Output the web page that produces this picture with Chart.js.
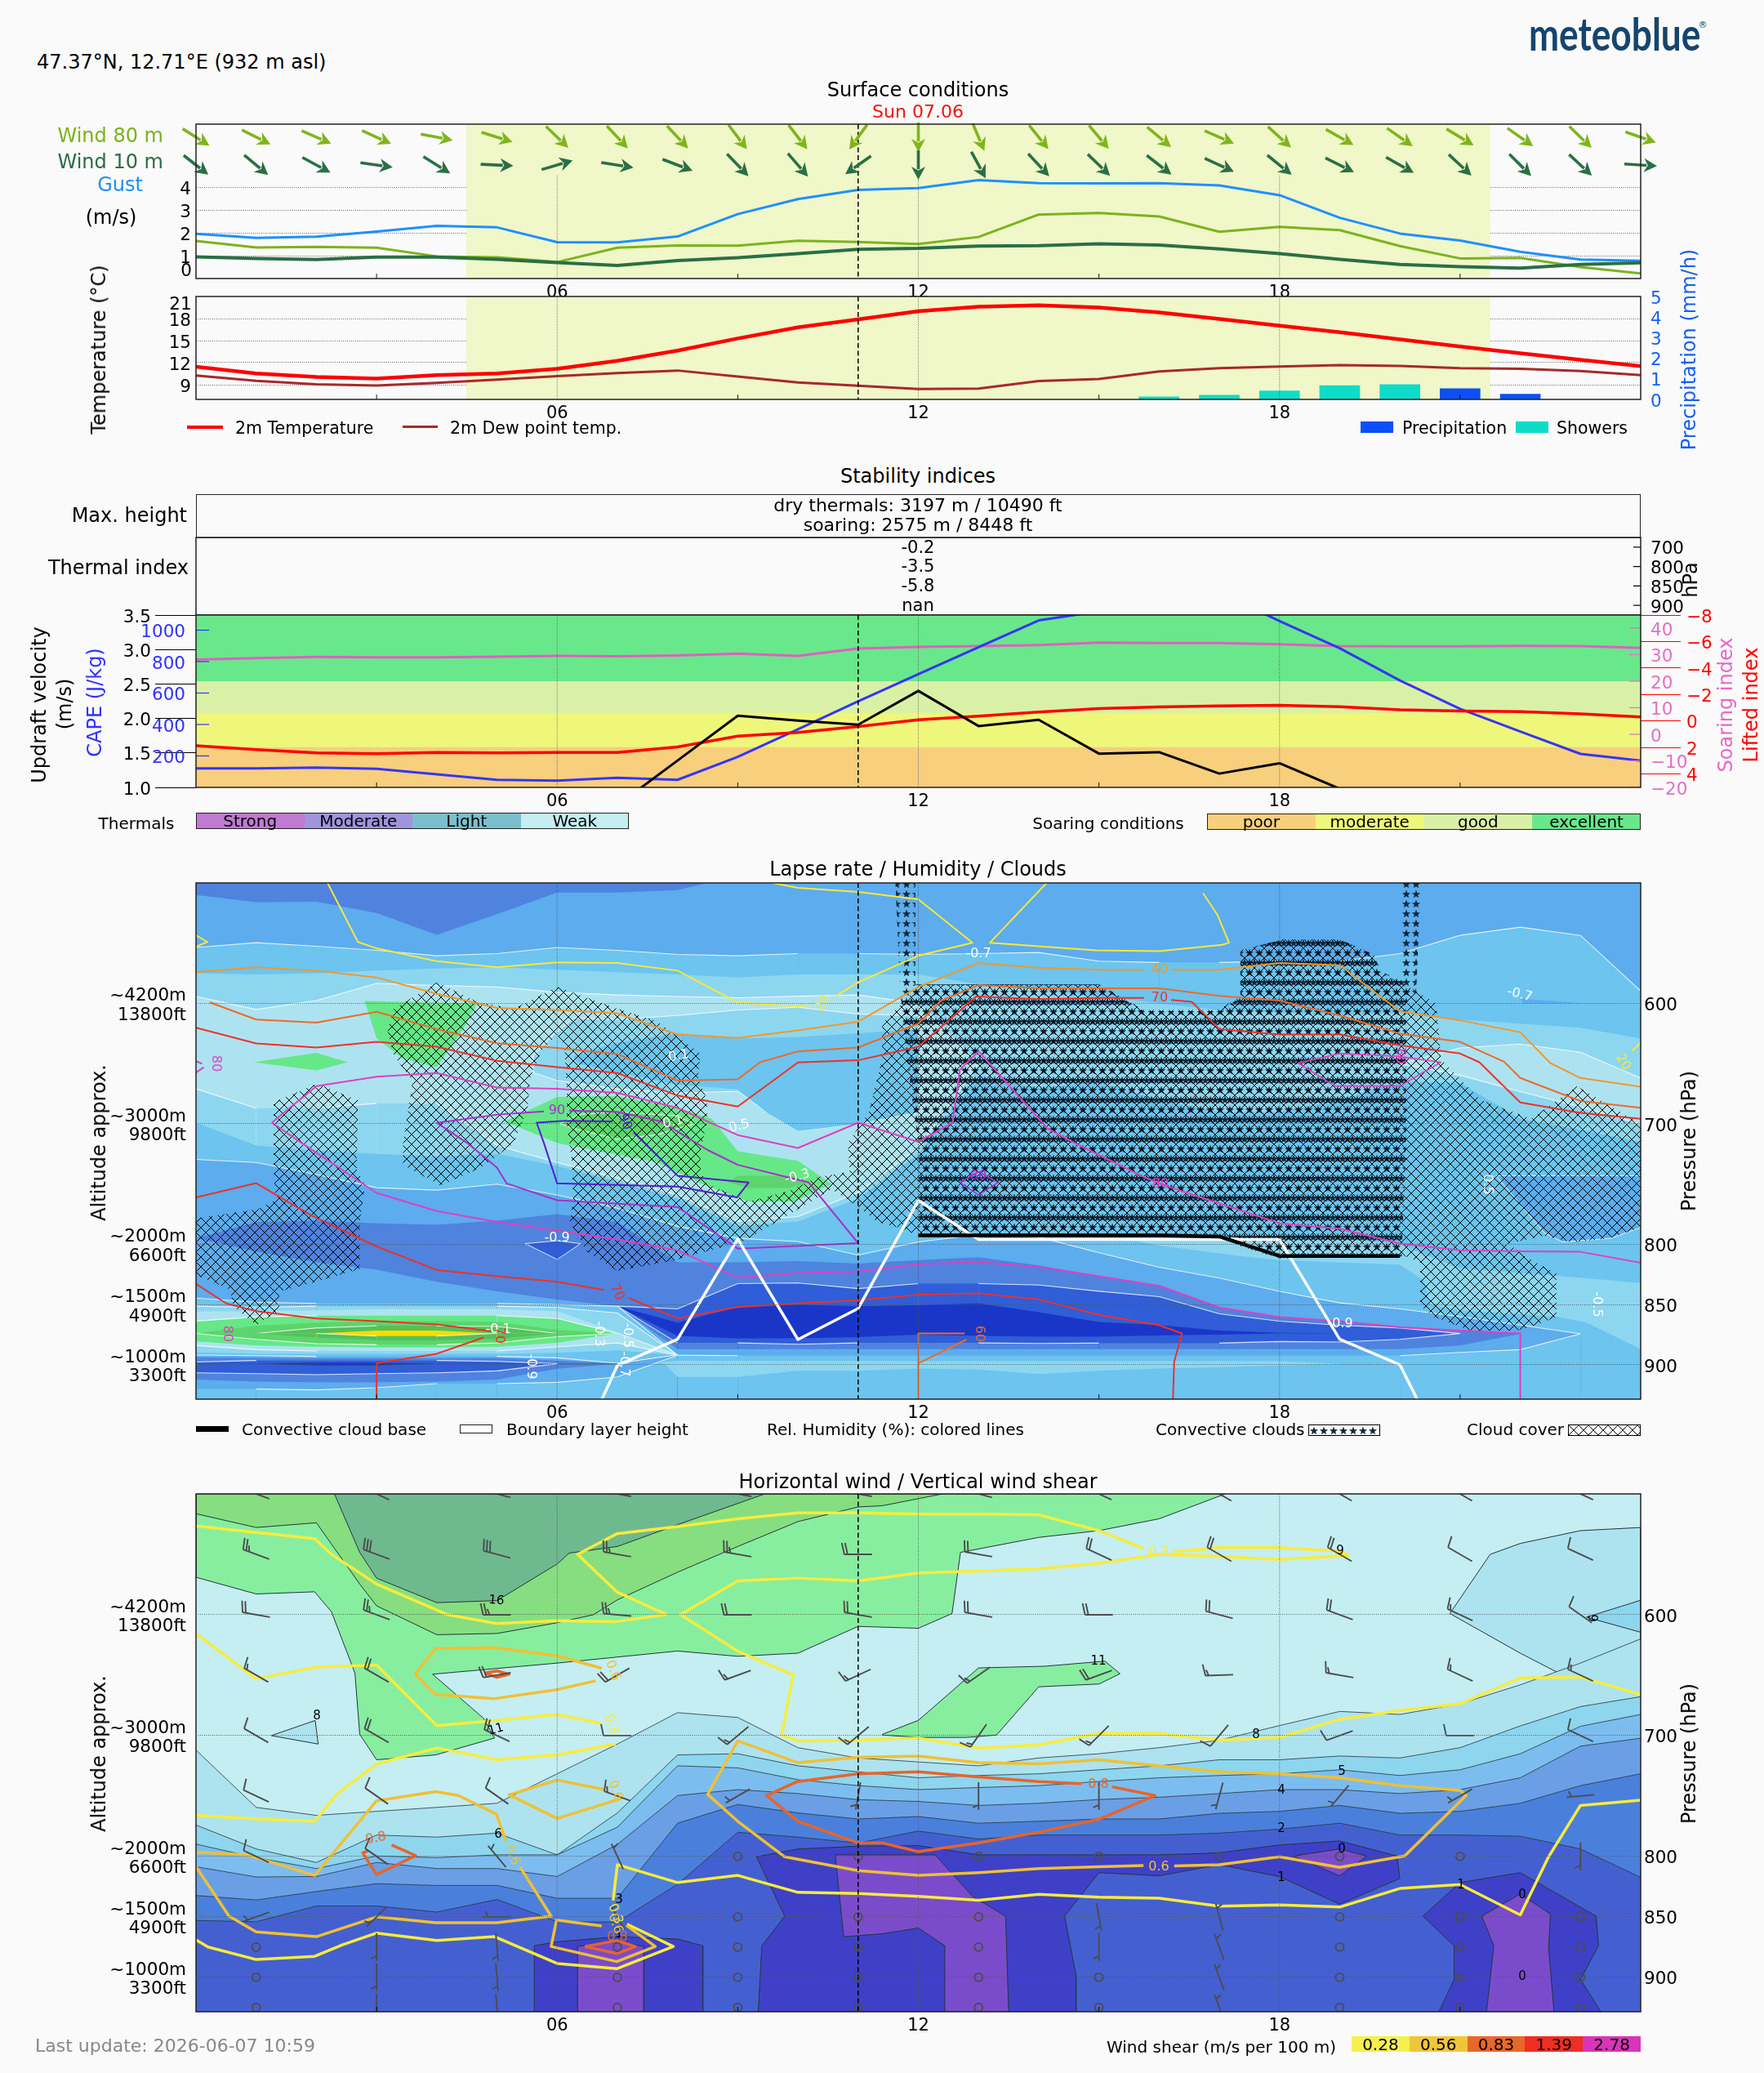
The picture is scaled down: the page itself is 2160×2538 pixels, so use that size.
<!DOCTYPE html>
<html>
<head>
<meta charset="utf-8">
<title>Meteogram</title>
<script src="https://cdn.jsdelivr.net/npm/chart.js@4/dist/chart.umd.js"></script>
<style>
  html, body { margin: 0; padding: 0; background: #fafafa; }
  #page { position: relative; width: 2160px; height: 2538px; overflow: hidden; font-family: "DejaVu Sans", sans-serif; color: #000; }
  #page canvas { position: absolute; left: 0; }
  .t { position: absolute; white-space: nowrap; z-index: 5; line-height: 1; }
  .box { position: absolute; z-index: 4; box-sizing: border-box; }
</style>
</head>
<body>
<div id="page"></div>
<script>
// ---------- time axis ----------
const hours = [0,1,2,3,4,5,6,7,8,9,10,11,12,13,14,15,16,17,18,19,20,21,22,23,24];
const hourLabels = [6,12,18];
const minorHours = [3,9,15,21];
const nowHour = 11;
const sunrise = 4.49, sunset = 21.5;

// ---------- surface conditions ----------
const gust   = [1.96,1.78,1.83,2.06,2.31,2.24,1.59,1.58,1.84,2.82,3.48,3.88,3.96,4.31,4.18,4.17,4.18,4.08,3.65,2.66,1.97,1.66,1.17,0.83,0.78];
const wind80 = [1.65,1.36,1.39,1.35,0.97,0.93,0.72,1.35,1.45,1.44,1.65,1.6,1.51,1.82,2.8,2.87,2.72,2.05,2.26,2.12,1.42,0.88,0.9,0.5,0.22];
const wind10 = [0.95,0.88,0.83,0.94,0.94,0.84,0.7,0.57,0.79,0.91,1.09,1.28,1.32,1.42,1.44,1.52,1.47,1.3,1.09,0.84,0.62,0.52,0.46,0.62,0.69];
const dir80  = [305,299,296,297,282,289,317,320,320,326,325,33,0,339,324,323,313,296,315,302,308,304,308,317,291];
const dir10  = [311,313,301,279,305,273,252,280,293,319,322,52,0,334,320,317,311,297,312,299,302,316,318,316,274];
const speedTicks = [1,2,3,4];

// ---------- temperature and precipitation ----------
const temperature = [11.44,10.53,10.06,9.82,10.3,10.53,11.17,12.24,13.63,15.29,16.8,17.9,19.0,19.6,19.8,19.5,18.83,17.95,17.04,16.13,15.17,14.2,13.27,12.4,11.52];
const dewPoint    = [10.25,9.54,9.06,8.9,9.26,9.7,10.17,10.57,10.93,10.1,9.3,8.86,8.43,8.47,9.5,9.78,10.8,11.25,11.48,11.68,11.56,11.25,11.17,10.85,10.3];
const showerHours = [16,17,18,19,20];
const showers     = [0.13,0.21,0.41,0.67,0.72];
const precipHours = [21,22];
const precip      = [0.52,0.25];
const tempTicks = [9,12,15,18];
const precipTicks = [0,1,2,3,4,5];

// ---------- stability indices ----------
const thermalLevels = ['700','800','850','900'];
const thermalIndex  = ['-0.2','-3.5','-5.8','nan'];
const cape    = [121,121,126,118,83,48,43,61,48,194,369,547,720,892,1062,1119,1250,1240,1058,885,680,499,355,213,170];
const lifted  = [1.85,2.15,2.4,2.46,2.36,2.4,2.36,2.36,1.95,1.13,0.86,0.41,-0.1,-0.37,-0.68,-0.94,-1.07,-1.15,-1.19,-1.09,-0.86,-0.76,-0.72,-0.55,-0.31];
const soaring = [28.1,28.7,29.1,29,29,29.2,29.5,29.4,29.7,30.4,29.5,32.3,32.9,33.2,33.6,34.5,34.4,34.4,33.9,33.2,33.1,33.1,33.3,33.2,32.5];
const updraft = [null,null,null,null,null,null,null,0.74,1.39,2.04,1.97,1.91,2.4,1.89,1.98,1.49,1.51,1.2,1.35,0.98,null,null,null,null,null];
const updraftTicks = [1,1.5,2,2.5,3,3.5];
const capeTicks = [200,400,600,800,1000];
const soaringTicks = [-20,-10,0,10,20,30,40];
const liftedTicks = [-8,-6,-4,-2,0,2,4];
const soaringEdges = [3.5,2.54,2.08,1.585];

// ---------- pressure axes ----------
const pressureTicks = [600,700,800,850,900];
const altitudeLabels = {600:['~4200m','13800ft'],700:['~3000m','9800ft'],800:['~2000m','6600ft'],850:['~1500m','4900ft'],900:['~1000m','3300ft']};

// ---------- lapse rate contours: upper edge of each band, hPa per hour ----------
const lapseA = [553.6,549.6,552.5,555.9,560.4,558.6,553.6,555.9,559.3,560.4,558.6,558.6,559.3,558.6,557.7,564.9,566,566,564.9,564.9,558.6,543.5,536.7,543.5,589.7];
const lapseB = [575,576,575,572.8,571,570,572,574,576,578.4,576,576,576,584,588.6,594,600,605.5,607.8,610,607.8,613.4,616.8,620.2,629.2];
const lapseC = [594.2,605,597.6,583.4,585.2,586.3,590.8,593,594.2,595.3,594,593,600,650,650,650,650,650,650,650,650,637,633.7,640.5,661.9];
const lapseD = [670.9,687,687,683,683,718,732,745,759,781,777,757,720,650,650,650,650,650,650,650,650,659.6,673.2,686,700];
const lapseE = [699,718,722,725,727,725,735,748,762,785,781,762,725,660,670,665,680,690,690,680,665,666,695.7,705,715];
const lapseF = [729.5,732,742,753,755,750,759,770,785,795,797.6,809,798,792,794,807,819,828,839,848.6,853.6,860,867,874.3,874.3];
const lapseG = [795,781.4,780.3,782.5,783.7,780.3,775,781.4,815,815,814,816,813,810.7,817.5,826.5,834.4,852.4,860.3,863.7,868.2,871.6,874.3,874.3,874.3];
const lapseH = [null,null,null,null,null,null,null,851.3,853.6,832.6,832.1,836.7,832.6,832.6,833.7,838.9,843.4,857.6,863.7,867.1,869.4,874,null,null,null];
const lapseI = [null,null,null,null,null,null,null,851.3,865,852,850,851.3,850.5,849,856.3,864.4,867,871.6,873.4,874,null,null,null,null,null];
const lapseJ = [null,null,null,null,null,null,null,851.3,876,878,878,877,875,876,876.6,876.6,875.7,875,874,874,null,null,null,null,null];
const lapseK = [null,null,null,null,null,null,null,851.3,881.8,881.8,882.9,881.8,881.8,881.8,882.2,882,882,882,880.6,881,878.8,874,null,null,null];
const lapseL = [795,806,815,821,831,839,845.7,851.3,887,887,887,887,887,887,887,887,887,887,887,887,887,884,874.3,874.3,874.3];
const lapseM = [844.6,848,849,849,849,849,850,851.3,892,892.4,892.4,892.4,892.4,892.4,892.4,892.4,892.4,892.4,892.4,892.4,892.4,889.7,887.4,874.3,874.3];
// low level lens, first nine hours only
const lensN  = [851.3,852.4,851.3,851.3,851.3,851.3,852.4,857,892];
const lensO  = [855.8,855.4,854.7,854,854,854,855.4,873,892];
const lensP  = [863.7,860.3,859.2,859.2,859.2,859.2,861.5,873.9,892];
const lensQ  = [873.9,867.6,864.9,863.7,863.7,864.2,871,873.9,892];
const lensR  = [873.9,873.9,869.4,867.6,867.6,868.2,873.9,873.9,892];
const lensS  = [873.9,873.9,873.9,871.6,871.6,873.9,873.9,873.9,892];
const lensS2 = [873.9,873.9,873.9,876.1,876.1,873.9,873.9,873.9,892];
const lensR2 = [873.9,873.9,877.3,879.5,879.5,878.4,873.9,873.9,892];
const lensQ2 = [873.9,878.8,882.4,883.3,883.3,881.8,876.6,873.9,892];
const lensP2 = [880.6,884,885.1,885.6,885.6,885.1,881.8,873.9,892];
const lensO2 = [884,887.4,888.5,888.5,888.5,888.5,885.1,881.8,892];
const lensN2 = [889.7,890.8,890.8,890.8,890.8,890.8,890.1,888,892];
const lensM2 = [891.9,892.4,893,893,893,893,894.2,898.7,892];
const lensL2 = [893.7,894.2,894.6,894.6,894.6,894.2,896.4,899,892];
const lensK2 = [897.6,896.4,896.4,896.4,896.4,897.1,899.1,899.1,892];
const lensJ2 = [899.1,899.1,898.2,898.2,899.1,899.1,899.1,899.1,892];
const lensI2 = [899.1,899.1,900.5,900.5,899.1,899.1,899.1,899.1,892];
const lensH2 = [906.6,907.3,908.2,907.3,906.6,905,899.1,899.1,892];
const lensG2 = [912.2,914,914.5,914.5,914,912.2,903.2,899.1,892];
const lensF2 = [920.1,920.1,920.8,919,915.6,915.6,914.5,910,892];

// closed lapse rate islands, [hour, hPa]
const lapseTop = [[0,500],[0,510],[1,516],[2,515.6],[3,525],[4,543],[5,526],[6,508],[7,508],[8,506],[8.5,500]];
const lapseTongue = [[12,610],[11,608.9],[10,603.2],[9,605.5],[8,610],[7,613.4],[6.27,612.3],[5.9,628],[5.6,643.8],[5.6,657.4],[6,664],[7,670.9],[8,674.3],[9,673],[9.5,691],[10,705.9],[11,700],[12,690]];
const lapseTongueCore = [[12,621.3],[11,624.7],[10,628],[9,629.2],[8,624.7],[7,632.6],[6.27,643.8],[6.35,650],[7,657.4],[8,667.5],[9,671.4],[9.5,691.2],[10,705.9],[11,700],[12,690]];
const greenA = [[2.8,598],[4.67,600],[4.44,621],[4,653],[3.44,646],[3,629]];
const greenB = [[0.96,648.8],[2,641],[2.52,648.8],[2,655.6]];
const greenC = [[5.13,698],[6,677.7],[7,677],[8,686.7],[8.57,695.7],[9,722.8],[10,730.7],[10.56,749.8],[9.95,764.5],[9.18,764.5],[8.4,749.8],[7.65,731.8],[6,716]];
const greenCoreA = [[6.05,700],[6.35,692.3],[7,690],[8,693.5],[8.26,700],[7.65,709],[7,712.6],[6.35,704.7]];
const greenCoreB = [[8.84,748.7],[9,743],[9.95,743],[10.18,748.7],[9.87,753.2],[9.18,753.2]];
const coldSpot = [[5.47,799.4],[6,797],[6.39,799.4],[6,812.5]];
const coolPatch = [[21.6,743],[24,743],[24,786],[23.5,795],[22.7,798],[22.4,790.4],[21.9,761]];
const smallCool = [[22,596],[22.05,600],[23.05,600]];
const lowBand = [[7.7,898],[8,896.6],[12,897],[18,897],[19,899],[18,900.5],[17,902],[16,903],[15,905],[14,907.7],[13,904],[12,903],[11,905],[10,905],[9,910],[8,910],[7.8,900]];
const eastBand = [[15.4,795],[16,801],[17.4,810],[18,813],[20,817],[20.4,830],[20.5,850],[21,855],[22,858],[22.6,860],[23.1,865],[24,887],[24,832],[22.6,826],[21,820],[20,800],[19,795]];

// cloud areas, [hour, hPa]
const cloudWest = [[2.02,666.5],[1.29,682],[1.29,735],[1.32,763],[1.04,770.7],[0,778.5],[0,825.2],[0.57,837.6],[0.62,851.6],[1,867.2],[1.38,854.8],[1.38,839.2],[1.97,831.4],[2.72,820.5],[2.72,781.6],[2.81,750.5],[2.67,738],[2.69,680.5]];
const cloudMain = [[4,582.5],[4.67,598.7],[5.28,604.4],[6,586.3],[7,604.4],[7.65,614.5],[8.38,641.6],[8.34,661.9],[8.49,680],[8.49,698],[8.38,722.8],[8.38,738.6],[8.49,749.8],[9.18,764.5],[9.87,755.5],[10.33,744.2],[10.86,739.7],[10.83,716],[10.79,718.3],[11.17,691.2],[11.4,646],[11.4,616.8],[12,586.3],
  [12,585.2],[15,585.2],[15.2,589.7],[15.75,605.5],[16.97,605.5],[17.36,594.2],[17.36,555.9],[18.05,546.9],[19,546.9],[19.57,559.3],[19.65,574],[20.15,586.3],[20.6,599.9],[20.65,625.8],[20.68,646.1],[21.33,679.9],[22.18,695.7],[22.94,668.6],[24,700.2],
  [24,785.9],[23.48,795],[22.86,798.3],[22.4,792.7],[21.8,799.4],[22.1,810.7],[22.6,824.3],[22.6,860.3],[22.25,867],[21.95,871.6],[21.18,871.6],[20.57,860.3],[20.34,851.3],[20.34,815.2],[20.03,808.5],[18,811.8],[17.36,801.7],[17.05,793.8],[12,792.7],
  [11.74,787],[11.32,781.4],[10.98,767.9],[10.56,754.3],[9.49,785.9],[9.1,797.2],[7.96,813],[7,822],[6.5,806.2],[6.21,781.4],[6.27,761.1],[6.24,729.5],[6.16,700.2],[6.16,670.9],[6.12,634.8],[6,625.8],[5.74,639.3],[5.55,661.9],[5.51,686.7],[5.28,716],[4.74,736.3],[4.06,751],[3.44,734],[3.44,716],[3.6,664],[3.29,643.8],[3.18,622.4],[3.29,604.4]];
const convectiveCloud = [[11.95,584],[15,584],[15.2,590],[15.75,606.5],[17,606.5],[17.35,595],[17.35,556],[18.05,547],[19,547],[19.55,559],[19.7,574],[20,580],[20.27,590],[20.1,600],[20.1,716],[20.03,810],[18,810],[17.4,795],[17,792.5],[12,792.5],[12,716],[11.82,650],[11.7,590]];
const convectiveWest = [[11.62,500],[11.95,500],[11.95,584],[11.7,590]];
const convectiveEast = [[20.05,500],[20.35,500],[20.27,590],[20,580]];

// relative humidity contours, [hour, hPa]
const rh20a = [[2.18,499.5],[2.69,549],[3,554.3],[4,565],[5,570],[6,566],[7,566.5],[8,572.8],[9,599.2],[10,602.8],[10.2,601.4]];
const rh20b = [[10.63,593.8],[11,582.5],[12,560.4],[12.9,549.6],[12,513.5],[11,507.4],[10,504],[9.53,499.5]];
const rh20c = [[14.14,499.5],[13.19,549.6],[14.95,555.9],[16,556.6],[17.05,551.4],[17.16,549.6],[16.97,526.6],[16.73,508.5]];
const rh20d = [[0,543.5],[0.19,549],[0,553]];
const rh20e = [[24,632.6],[23.86,639.3]];
const rh40a = [[0,574],[1,570],[2,572.8],[3,578.4],[4,592],[5,603.7],[6,605.5],[7,608.2],[8,625.8],[9,628.7],[10,622.4],[11,615.2],[12,586.3],[13,566.5],[14,570.5],[15,572.1],[15.75,572.1]];
const rh40b = [[16.2,572.1],[17,572.1],[18,566.5],[19,568.3],[20,606.6],[21,614],[22,624],[22.5,649.5],[23,661.9],[24,669.1]];
const rh60a = [[0.23,599.2],[1,613.4],[2,616],[3,607],[4,621.3],[5,633],[6,637],[7,642],[8,664.1],[9,663],[9.37,648.8],[10,639.8],[11,636.6],[12,616.8],[12.38,597.6],[13,584.8],[14,587.5],[15,587.5],[16,587.5],[17,593.8],[18,597.6],[19,610],[20,625.1],[21,631.9],[21.73,648.4],[22,661.9],[23,681],[24,686.7]];
const rh60b = [[12,928.5],[12,873.9],[12.77,873.9]];
const rh60c = [[12,898.7],[12.8,879]];
const rh70a = [[0,620.2],[1,633.2],[2,636.6],[3,631.9],[4,636],[5,647.7],[6,652.9],[7,657.8],[8,676.5],[9,685.6],[10,649],[11,647.2],[12,636],[12.96,594.2],[14,596.5],[15,595.4],[15.75,595.4]];
const rh70b = [[16.2,597.2],[16.54,598.7],[17,621.3],[18,625.8],[19,625.8],[20,634.8],[21,641.6],[21.32,648.8],[22,682.2],[23,690.8],[24,695.7]];
const rh70c = [[0,761],[1,749.2],[1.91,775.8],[3,801.7],[4,821.3],[5,826.5],[6,831],[6.77,837.8]];
const rh70d = [[7.19,844.6],[8,861.5],[9,852],[10,849],[11,846.4],[12,841.8],[13,840.7],[14,845.7],[15,858.5],[16,867.1],[16.38,873.9],[16.25,897.5],[16.23,928.5]];
const rh70e = [[0,832.8],[0.5,849],[1,855.4],[2,861.5],[3,863.7],[4,866.4],[4.9,872]];
const rh70f = [[4.78,877.3],[4,890.8],[3,898.7],[3,928.5]];
const rh80a = [[1.26,699],[2,668.6],[3,660.8],[4,657.8],[5,669.8],[6,670.9],[7,674.3],[8,686.7],[9,709.3],[10,720],[11,699],[12,714.9],[12.57,699],[12.69,655],[13,639.8],[13.84,686.7],[14.14,703.6],[14.6,716],[15.75,744.2],[16.28,754.3],[18,782.5],[19,787],[20,799.4],[21,805],[22,805.8],[23,806.2],[24,815.2]];
const rh80b = [[1.26,699],[1.76,716],[3,757.3],[4,772.4],[5,781.4],[6,788.6],[7,796],[8,805],[9,827.6],[10,824],[11,822.5],[12,816.4],[13,814.8],[14,818.6],[15,826.5],[16,834.4],[17,852.4],[18,860.3],[19,863.7],[20,868.9],[21,871.6],[22,873.9],[22,928.5]];
const rh80c = [[18.31,649.5],[19,641.6],[19.96,643.8],[20.68,648.8],[20,668.6],[18.92,668.6],[18.31,649.5]];
const rh80d = [[0,648],[0.1,650]];
const rh80e = [[0,657.4],[0.13,653]];
const rh85a = [[12.69,748.7],[13,739.7],[13.32,748.7],[13,758.9],[12.69,748.7]];
const rh90a = [[5.78,689.6],[5.01,692.3],[4,699.1],[4.51,716],[5,736.3],[5.16,749.4],[6,763.4],[8,769],[9,803.5],[11,799],[10.18,748.7],[9,734],[8.5,721.7],[7.73,698],[7,690],[6.2,689]];
const rh95a = [[6.92,698],[6.12,697.5],[5.66,699],[5.78,716],[6,749.4],[8,752],[8.99,761],[9.18,748.7],[8,743],[7.27,707]];

// boundary layer and convective cloud base, hPa per hour
const boundaryLayer = [null,null,null,null,null,null,1010,900.5,878.7,795.6,879,853.2,763.6,796,796,796,796,796,796,878.7,899.9,1000,null,null,null];
const cloudBase = [null,null,null,null,null,null,null,null,null,null,null,null,792.5,792.5,792.5,792.5,792.5,793.5,809.6,809.6,809.6,null,null,null,null];

// ---------- horizontal wind contours: upper edge of each band, hPa per hour ----------
const windB1 = [712,759.4,766,762.7,759.4,756,731.6,707,681,685,710,718.5,721.8,725,718.5,715,710,703.8,691.7,680,682.5,673.7,658,640,620];
const windB2 = [774,793.8,805,782.3,784,780.7,798.7,764,716,715,725,730,734.9,733,731.6,728.3,725,720,720,716.9,718.5,710,692,676,667.8];
const windB3 = [789.8,801,810,799.6,801,798.7,798.7,775.8,725,726.7,736.5,741.4,744.7,743,741.4,738,734.9,733,731.6,728.3,733,728.3,715,692.3,682.5];
const windB4 = [808.5,817,816.6,805,810,810,816.6,790,749.6,744.7,748,753,754.5,757.8,756,752.9,751,748,744.7,744.7,748,744.7,734.9,708.7,702.2];
const windB5 = [832.3,836,829,822.5,824,824,834.6,834.6,772.5,757,764,769,767,772.5,770.9,769,769,764.3,762.7,757.8,764.3,762.7,756,741.4,731.6];
const windB6 = [853,854,841,841,846,835.6,854,854.3,823,780,784,788.9,779,785.6,782.3,782.3,782.3,780.7,777.4,772.5,782.3,782.3,783.3,793.8,817.3];

// closed wind speed areas, [hour, hPa]
const windLight = [[0,500],[0,569],[1,582.8],[1.97,581],[2.25,597.5],[2.64,648.2],[2.72,698.9],[3,720],[3.98,716],[4.96,702],[4.78,685.8],[3.93,649.2],[6,640],[7,635],[8,630],[9,634.4],[10,631.8],[11,609.6],[12,611.2],[12.56,599],[12.7,548.4],[14,536],[15,530.4],[16,520.6],[17.1,500]];
const windLightB = [[11.4,699],[12,687.4],[13,644],[14.1,642.6],[15.1,638.4],[15.35,648.8],[15,657.3],[14,659.6],[13.3,699.5],[12.8,701.5],[12,701.5],[11.4,699.5]];
const windMid = [[0,500],[0,516.4],[1,527.8],[2,523.9],[2.72,574.6],[3,592.6],[4,616.5],[5,615.5],[6,606.6],[6.6,600],[7,587.7],[8,564.8],[9,543.5],[10,522.9],[11,510.8],[11.4,509.8],[12.4,500]];
const windJet = [[2.3,500],[2.72,548.4],[3,569.7],[4,590],[5,588.3],[6,558],[6.2,549],[7,543.5],[8,525.5],[9.45,500]];
const windEast = [[20.83,599],[21.5,550],[22,541],[23,530.4],[24,527.8],[24,660],[22.7,649.8],[22,631.8]];
const windEastB = [[23.1,602],[24,588],[24,614.5]];
const windWestDot = [[1.25,700],[1.98,687.5],[2.03,707]];
const calmA = [[5.62,873.9],[6,870.6],[7,866.4],[8,868.3],[8.42,873.9],[8.42,928.5],[5.62,928.5]];
const calmCoreA = [[6.34,874.5],[7,870.6],[7.44,874.5],[7.44,928.5],[6.34,928.5]];
const calmB = [[9.31,800.3],[10,793.8],[11,791.5],[12,791],[13,798.7],[14,798.7],[15,798.7],[16,798.7],[17,797],[18,790.5],[19,787.2],[19.95,799.6],[20,818.3],[19,839.5],[18,816.7],[17,806.8],[16,816],[15,813.4],[14.43,849.4],[14.62,898.4],[14.62,928.5],[9.34,928.5],[9.4,873.9],[9.78,849.4]];
const calmCoreB = [[10.62,798.7],[11.4,798.7],[12.28,798.7],[12.9,833],[13.45,849.4],[13.5,928.5],[12.44,928.5],[12.44,873.9],[12,859.2],[11.4,864],[10.76,866.4]];
const calmC = [[21,821.6],[22,813.4],[23.26,849.4],[23.3,873.9],[23,901.7],[23.34,928.5],[20.65,928.5],[20.9,901.7],[20.9,873.9],[20.38,849.4]];
const calmCoreC = [[22,831],[22.5,847.7],[22.47,875.5],[22.56,928.5],[21.44,928.5],[21.56,873.9],[21.36,849.4]];
const calmCoreD = [[18.23,799.7],[19,793.8],[19.45,799.7],[19,816]];

// wind shear contours, [hour, hPa]
const shear03a = [[0,526.5],[1,532],[1.97,537],[2.25,550],[3,574.6],[4.17,599.8],[5,607.3],[6,605],[6.97,605.7],[7.81,599.8],[6.99,581],[6.34,550],[6.99,533],[8,527],[9,520.6],[10,515.7],[11,515.7],[12,516.7],[13,516.7],[14,517.3],[15,530.4],[15.74,545]];
const shear03b = [[16.25,547.8],[17,544.5],[18,544.5],[19,547.4],[19.15,551],[18,554.3],[17,551.7],[16,550],[15,557.5],[14,562],[13,563.8],[12,565.4],[11,572],[10,569.7],[9,572],[8.05,599.8],[9,630.2],[9.92,649.8],[9.73,699.5],[10,704.4],[11,703.8],[12,702],[13,710.3],[14,707.7],[15,698.2],[16,698.2],[17,703.8],[18,701.5],[19,686.5],[20,679.3],[21,673.7],[22,652.4],[23,651.5],[24,666.2]];
const shear03c = [[0,615.5],[1,653],[2,643.3],[3,641.6],[4,691.7],[5,687.4],[6,682.5],[6.74,690]];
const shear03d = [[6.97,707],[6,716],[5,720],[4,710.3],[3,723.4],[2.35,748],[1.97,770.9],[1,769],[0,766]];
const shear03e = [[0,869],[0.2,874.9],[1,885.3],[1.97,882.7],[2.44,873],[3,863.4],[4,869.6],[4.96,866.4],[6,888.6],[6.99,892.9],[7.93,874.5],[7.16,856]];
const shear03f = [[6.93,836.3],[7,806.8],[8,821.6],[9,815.7],[10,829.7],[11,830.7],[12,833],[13,836.3],[14,831.4],[15,833.7],[16,834.6],[17,841.2],[18,840.2],[19,841.9],[20,826.5],[21,823.2],[22,848.4],[22.47,800.3],[23,757.8],[24,753.5]];
const shear06a = [[6.64,654.7],[5.99,662],[4.96,669.4],[3.98,665.9],[3.64,649.2],[3.98,627.9],[4.96,627.2],[5.99,633.8],[6.74,644.3]];
const shear06b = [[6.79,744.7],[6,736.8],[5.2,749],[6,768.6],[7.07,752]];
const shear06c = [[0,796.4],[0.85,798.7],[1.97,815.7],[3,753.9],[3.98,746.3],[4.36,749.6],[4.99,765],[5.15,787.2]];
const shear06d = [[5.38,808.5],[5.9,849.4],[5,854.9],[3.98,854.9],[3,850],[2,866.4],[1,862.4],[0.55,849.4],[0,808.5]];
const shear06e = [[6.74,857.5],[5.99,852.6],[5.9,874.5],[6.99,887],[7.63,874.5],[7.15,857]];
const shear06f = [[15.74,807.5],[15,808.5],[14,810],[13,813.4],[12,815.7],[11,811.7],[9.78,800.3],[9,770.9],[8.5,748.6],[9,704.4],[10,722.4],[11,717.9],[12,716.9],[13,722.4],[14,723.4],[15,720],[16,725],[17,730],[18,731.6],[19,734.9],[20,741.4],[21,745.3],[21.1,749.6],[20.08,799.6],[19,809],[18,800.3],[17,806.8],[16.25,807.8]];
const shear08a = [[4.8,648.2],[5,646.5],[5.2,649.2],[5,651.8],[4.8,648.2]];
const shear08b = [[3.25,790.5],[3.65,799.3],[3,815],[2.77,797],[2.86,795.4]];
const shear08c = [[6.46,874.5],[6.99,869.6],[7.3,874.5],[6.99,880.4],[6.46,874.5]];
const shear08d = [[14.71,739.8],[14,738],[13,734.2],[12,730],[10.99,731.6],[9.99,738],[9.48,749.6],[10,770.9],[11,788.8],[11.4,788.8],[12,796],[13,788.8],[14,780],[15,769.2],[15.93,749.6],[15.22,742.4]];

// wind barbs: one row per level, direction the wind blows from and number of half feathers (0 is calm)
const barbHours = [1,3,5,7,9,11,13,15,17,19,21,23];
const barbLevels = [500,550,600,650,700,750,800,850,875,900,925];
const barbDirs = [
  [290,295,285,280,280,280,285,295,300,300,300,295],
  [290,290,285,280,280,270,280,295,300,300,300,295],
  [280,290,270,275,270,280,280,270,285,290,295,305],
  [300,300,260,240,250,245,235,250,268,280,295,295],
  [300,300,295,270,230,230,215,225,220,250,270,295],
  [295,305,305,290,240,190,180,180,195,220,240,265],
  [295,305,320,335,0,0,0,0,0,0,0,180],
  [250,225,270,330,0,0,0,170,345,0,0,0],
  [0,180,175,0,0,0,0,180,340,0,0,0],
  [0,180,175,0,0,0,0,0,340,0,0,0],
  [0,180,175,0,0,0,0,0,340,0,0,0]
];
const barbFeathers = [
  [5,6,6,5,5,4,4,4,4,4,3,3],
  [5,6,6,5,5,4,4,4,4,4,2,2],
  [4,5,5,5,4,4,4,4,4,4,3,2],
  [3,4,4,4,3,3,3,4,3,3,3,3],
  [2,4,4,2,3,3,3,3,2,2,2,2],
  [2,2,2,3,1,1,1,1,1,1,1,1],
  [2,2,1,1,0,0,0,0,0,0,0,1],
  [1,1,1,1,0,0,0,1,1,0,0,0],
  [0,1,1,0,0,0,0,1,1,0,0,0],
  [0,1,1,0,0,0,0,0,1,0,0,0],
  [0,1,1,0,0,0,0,0,1,0,0,0]
];

// ---------- colours ----------
const BLUE_DD = '#1a36c8', BLUE_D = '#2f5ed8', BLUE_M = '#4f83de', BLUE_B = '#5cacee', BLUE_C = '#6cc4ef', BLUE_L1 = '#8dd6f0', BLUE_L2 = '#ade3f1';
const GREEN_1 = '#66e888', GREEN_2 = '#5dd46c', GREEN_3 = '#52c15a', YELLOW = '#f8dc00';
const WHITE_LINE = 'rgba(255,255,255,.8)', CONTOUR = '#26343c';
const Y_03 = '#f8ec3c', O_06 = '#f0c034', R_08 = '#e8642a';
const TICK_SIZE = 21.5;

Chart.defaults.font.family = '"DejaVu Sans", sans-serif';
Chart.defaults.animation = false;

const page = document.getElementById('page');
const LEFT = 240, RIGHT = 2009, GUTTER = 40;
const panelSpecs = {};

// free standing text
function text(str, x, y, o = {}) {
  const d = document.createElement('div');
  d.className = 't';
  d.textContent = str;
  const shift = o.align === 'l' ? '0,-50%' : o.align === 'r' ? '-100%,-50%' : '-50%,-50%';
  d.style.cssText = `left:${x}px;top:${y}px;font-size:${o.size || 20.5}px;color:${o.color || '#000'};` +
    `transform-origin:${o.align === 'l' ? 'left' : 'center'};transform:translate(${shift}) rotate(${o.rot || 0}deg) scaleX(${o.squeeze || 1});` + (o.css || '');
  page.appendChild(d);
}
function box(x, y, w, h, css) {
  const d = document.createElement('div');
  d.className = 'box';
  d.style.cssText = `left:${x}px;top:${y}px;width:${w}px;height:${h}px;${css}`;
  page.appendChild(d);
  return d;
}

// hatch tiles repeat a whole number of periods so the spacing stays 12px
const HATCH = 72, PITCH = 12;
function crossHatch() {
  const t = document.createElement('canvas');
  t.width = t.height = HATCH;
  const c = t.getContext('2d');
  c.strokeStyle = '#000';
  c.lineWidth = 1;
  for (let k = -6; k <= 6; k++) {
    c.beginPath(); c.moveTo(k * PITCH, 0); c.lineTo(k * PITCH + HATCH, HATCH); c.stroke();
    c.beginPath(); c.moveTo(k * PITCH + HATCH, 0); c.lineTo(k * PITCH, HATCH); c.stroke();
  }
  return t;
}
// dense=true alternates a row of single stars with a row of touching stars
function starHatch(dense) {
  const t = document.createElement('canvas');
  t.width = t.height = HATCH;
  const c = t.getContext('2d');
  c.fillStyle = '#14283a';
  const star = (x, y, r) => {
    c.beginPath();
    for (let i = 0; i < 10; i++) {
      const a = -Math.PI / 2 + i * Math.PI / 5, q = i % 2 ? r * 0.42 : r;
      c.lineTo(x + q * Math.cos(a), y + q * Math.sin(a));
    }
    c.closePath();
    c.fill();
  };
  for (let row = 0; row < 6; row++) {
    const y = (row + 0.5) * PITCH;
    for (let col = 0; col <= 6; col++) {
      star((col + 0.5) * PITCH, y, 5.4);
      if (dense && row % 2) star(col * PITCH, y, 5.4);
    }
  }
  return t;
}

function drawArrow(ctx, x, y, from, color) {
  const a = from * Math.PI / 180;
  const hx = -Math.sin(a) * 20, hy = Math.cos(a) * 18;
  const x0 = x - hx, y0 = y - hy, x1 = x + hx, y1 = y + hy;
  const len = Math.hypot(x1 - x0, y1 - y0), ux = (x1 - x0) / len, uy = (y1 - y0) / len;
  const head = 16, half = 8.5;
  ctx.strokeStyle = ctx.fillStyle = color;
  ctx.lineWidth = 3.6;
  ctx.beginPath();
  ctx.moveTo(x0, y0);
  ctx.lineTo(x1 - ux * head * 0.8, y1 - uy * head * 0.8);
  ctx.stroke();
  ctx.beginPath();
  ctx.moveTo(x1, y1);
  ctx.lineTo(x1 - ux * head - uy * half, y1 - uy * head + ux * half);
  ctx.lineTo(x1 - ux * head * 0.7, y1 - uy * head * 0.7);
  ctx.lineTo(x1 - ux * head + uy * half, y1 - uy * head - ux * half);
  ctx.closePath();
  ctx.fill();
}

function drawBarb(ctx, x, y, from, n) {
  ctx.strokeStyle = '#4c4c4c';
  ctx.lineWidth = 1.9;
  if (!n) {
    ctx.beginPath();
    ctx.arc(x, y, 5, 0, Math.PI * 2);
    ctx.stroke();
    return;
  }
  const a = from * Math.PI / 180;
  const vx = Math.sin(a), vy = -Math.cos(a), fx = -vy, fy = vx;
  const tx = x + vx * 17, ty = y + vy * 17;
  ctx.beginPath();
  ctx.moveTo(x - vx * 17, y - vy * 17);
  ctx.lineTo(tx, ty);
  let along = n === 1 ? 6 : 0;
  for (let left = n; left > 0; left -= 2) {
    const l = left >= 2 ? 14 : 7;
    const bx = tx - vx * along, by = ty - vy * along;
    ctx.moveTo(bx, by);
    ctx.lineTo(bx + fx * l + vx * 3, by + fy * l + vy * 3);
    along += 4;
  }
  ctx.stroke();
}

// day band, closed areas, hour marks, arrows, barbs and the frame of a panel
Chart.register({
  id: 'panelMarks',
  beforeDatasetsDraw(chart) {
    const spec = panelSpecs[chart.canvas.id], a = chart.chartArea, ctx = chart.ctx, xs = chart.scales.x;
    if (spec.dayBand) {
      ctx.fillStyle = '#f0f7c8';
      const x0 = xs.getPixelForValue(sunrise), x1 = xs.getPixelForValue(sunset);
      ctx.fillRect(x0, a.top, x1 - x0, a.bottom - a.top);
    }
  },
  beforeDatasetDraw(chart, args) {
    const ds = chart.data.datasets[args.index];
    if (!ds.closedFill) return;
    const ctx = chart.ctx, a = chart.chartArea, pts = args.meta.data;
    ctx.save();
    ctx.beginPath();
    ctx.rect(a.left, a.top, a.right - a.left, a.bottom - a.top);
    ctx.clip();
    ctx.beginPath();
    pts.forEach((p, i) => i ? ctx.lineTo(p.x, p.y) : ctx.moveTo(p.x, p.y));
    ctx.closePath();
    ctx.fillStyle = ds.closedFill;
    ctx.fill();
    ctx.restore();
  },
  afterDatasetsDraw(chart) {
    const spec = panelSpecs[chart.canvas.id], a = chart.chartArea, ctx = chart.ctx, xs = chart.scales.x;
    ctx.save();
    ctx.beginPath();
    ctx.rect(a.left, a.top, a.right - a.left, a.bottom - a.top);
    ctx.clip();
    if (spec.barbs) {
      barbLevels.forEach((lev, r) => barbHours.forEach((h, c) =>
        drawBarb(ctx, xs.getPixelForValue(h), chart.scales.y.getPixelForValue(lev), barbDirs[r][c], barbFeathers[r][c])));
    }
    if (spec.hourMarks) {
      const top = spec.gridTop ? chart.scales.y.getPixelForValue(spec.gridTop) : a.top;
      ctx.strokeStyle = '#555';
      ctx.lineWidth = 0.9;
      ctx.setLineDash([1, 1.5]);
      hourLabels.forEach(h => {
        const x = xs.getPixelForValue(h);
        ctx.beginPath(); ctx.moveTo(x, top); ctx.lineTo(x, a.bottom); ctx.stroke();
      });
      ctx.setLineDash([]);
      ctx.strokeStyle = '#000';
      minorHours.forEach(h => {
        const x = xs.getPixelForValue(h);
        ctx.beginPath(); ctx.moveTo(x, a.bottom); ctx.lineTo(x, a.bottom - 6); ctx.stroke();
      });
      const nx = xs.getPixelForValue(nowHour);
      ctx.lineWidth = 1.5;
      ctx.setLineDash([6, 3.5]);
      ctx.strokeStyle = '#000';
      ctx.beginPath(); ctx.moveTo(nx, a.top); ctx.lineTo(nx, a.bottom); ctx.stroke();
      ctx.setLineDash([]);
    }
    (spec.inward || []).forEach(t => {
      const s = chart.scales[t.scale];
      ctx.strokeStyle = t.color;
      ctx.lineWidth = 1.2;
      t.values.forEach(v => {
        const y = s.getPixelForValue(v), x = t.side === 'left' ? a.left : a.right, d = t.side === 'left' ? t.len : -t.len;
        ctx.beginPath(); ctx.moveTo(x, y); ctx.lineTo(x + d, y); ctx.stroke();
      });
    });
    ctx.restore();
    if (spec.arrows) {
      const ys = chart.scales.y;
      hours.forEach((h, i) => {
        drawArrow(ctx, xs.getPixelForValue(h), ys.getPixelForValue(6.19), dir80[i], '#80b41e');
        drawArrow(ctx, xs.getPixelForValue(h), ys.getPixelForValue(4.97), dir10[i], '#2a6f45');
      });
    }
    ctx.strokeStyle = '#222';
    ctx.lineWidth = 1.5;
    ctx.strokeRect(a.left, a.top, a.right - a.left, a.bottom - a.top);
  }
});

// every axis has zero thickness so the plot area is exactly the requested rectangle;
// tick labels then sit outside the axis box, so its label clipping is switched off
function looseLabels(s, dy) {
  s.paddingTop = s.paddingBottom = s.paddingLeft = s.paddingRight = 0;
  if (s._loose) return;
  s._loose = true;
  s._computeLabelArea = () => null;
  const items = s._computeLabelItems;
  s._computeLabelItems = function (area) {
    const list = items.call(this, area);
    list.forEach(it => { it.options.translation[1] += dy; });
    return list;
  };
}
const noY = s => { s.width = 0; looseLabels(s, 3); };
const noX = s => { s.height = 0; looseLabels(s, -6.5); };
const setTicks = vals => s => { s.ticks = vals.map(value => ({ value })); };

const timeAxis = {
  type: 'linear', min: 0, max: 24, offset: false, afterFit: noX, afterBuildTicks: setTicks(hourLabels),
  grid: { display: false, offset: false }, border: { display: false },
  ticks: { font: { size: 21 }, color: '#000', padding: 3, maxRotation: 0, autoSkip: false, callback: v => String(v).padStart(2, '0') }
};
function valueAxis(o) {
  return Object.assign({
    type: 'linear', afterFit: noY, afterBuildTicks: setTicks(o.values),
    grid: { display: false }, border: { display: false },
  }, o.extra || {}, {
    position: o.position || 'left', min: o.min, max: o.max, reverse: !!o.reverse,
    ticks: Object.assign({ font: { size: TICK_SIZE }, color: o.color || '#000', padding: o.padding === undefined ? 6 : o.padding, autoSkip: false, callback: v => String(v) }, o.ticks || {})
  });
}
const dottedGrid = z => ({ grid: { color: '#555', lineWidth: 0.9, drawTicks: false, z }, border: { display: false, dash: [1, 1.5] } });

function panel(id, top, bottom, datasets, scales, spec) {
  const c = document.createElement('canvas');
  c.id = id;
  c.width = 2160;
  c.height = bottom - top + 2 * GUTTER;
  c.style.top = (top - GUTTER) + 'px';
  page.appendChild(c);
  panelSpecs[id] = spec;
  return new Chart(c, {
    type: 'line',
    data: { datasets },   // the first dataset of a chart is painted last
    options: {
      responsive: false, animation: false, events: [],
      layout: { padding: { left: LEFT, right: 2160 - RIGHT, top: GUTTER, bottom: GUTTER } },
      elements: { point: { radius: 0 }, line: { tension: 0 } },
      plugins: { legend: { display: false }, tooltip: { enabled: false } },
      scales
    }
  });
}

const byHour = (vals) => vals.map((y, i) => ({ x: hours[i], y }));
const pairs = pts => pts.map(([x, y]) => ({ x, y }));
const series = (vals, color, width, axis) => ({ data: byHour(vals), borderColor: color, borderWidth: width, yAxisID: axis || 'y', borderJoinStyle: 'round' });
const polyline = (pts, color, width) => ({ data: pairs(pts), borderColor: color, borderWidth: width, yAxisID: 'y', borderJoinStyle: 'round' });
// a band painted from its upper edge down to the bottom of the plot
const band = (vals, color, outline) => ({
  data: byHour(vals), borderColor: 'transparent', borderWidth: outline ? 1.1 : 0, backgroundColor: color, fill: 'start', yAxisID: 'y',
  segment: outline ? { borderColor: c => c.p0.parsed.y === c.p1.parsed.y ? 'transparent' : outline } : undefined
});
const area = (pts, color, outline) => ({
  data: pairs(pts.concat([pts[0]])), closedFill: color, borderColor: outline || 'transparent', borderWidth: outline ? 1 : 0, yAxisID: 'y'
});

// ---------- page furniture ----------
text('47.37°N, 12.71°E (932 m asl)', 45, 75.5, { align: 'l', size: 24 });
text('meteoblue', 1872, 41, { align: 'l', size: 56, color: '#15456e', squeeze: 0.79, css: 'font-family:Lato,sans-serif;font-weight:700;' });
text('®', 2085, 30, { size: 11, color: '#15456e' });

// ---------- surface conditions ----------
text('Surface conditions', 1124, 110, { size: 24 });
text('Sun 07.06', 1124, 137, { size: 22, color: '#f01414' });
text('Wind 80 m', 200, 166, { align: 'r', size: 24, color: '#7cb21e' });
text('Wind 10 m', 200, 198, { align: 'r', size: 24, color: '#2a6e44' });
text('Gust', 147, 226, { size: 24, color: '#1e90ff' });
text('(m/s)', 136, 266, { size: 24 });
text('0', 228, 330.5, { size: TICK_SIZE });
panel('surface', 152, 341, [
  series(wind10, '#2a6f45', 4),
  series(wind80, '#7cb31e', 3),
  series(gust, '#1e90ff', 3)
], {
  x: timeAxis,
  y: valueAxis({ min: 0, max: 6.76, values: speedTicks, extra: dottedGrid(0) })
}, { dayBand: true, hourMarks: true, gridTop: 4.5, arrows: true });

// ---------- temperature and precipitation ----------
text('Temperature (°C)', 121, 428, { rot: -90, size: 24 });
text('Precipitation (mm/h)', 2068, 428, { rot: -90, size: 24, color: '#1560f0' });
text('21', 221, 371.5, { size: TICK_SIZE });
const bars = (xs, ys, color) => ({ type: 'bar', data: xs.map((x, i) => ({ x, y: ys[i] })), backgroundColor: color, barThickness: 49, grouped: false, yAxisID: 'yp' });
panel('temperature', 363, 489, [
  series(temperature, '#ff0000', 4.5),
  series(dewPoint, '#a52a2a', 3),
  bars(showerHours, showers, '#0fdcc8'),
  bars(precipHours, precip, '#0b50f5')
], {
  x: timeAxis,
  y: valueAxis({ min: 7, max: 21, values: tempTicks, extra: dottedGrid(0) }),
  yp: valueAxis({ min: 0, max: 5, values: precipTicks, position: 'right', color: '#1560f0', padding: 4 })
}, { dayBand: true, hourMarks: true });

box(229, 521, 44, 4, 'background:#ff0000');
text('2m Temperature', 288, 524, { align: 'l' });
box(493, 521, 43, 3, 'background:#a52a2a');
text('2m Dew point temp.', 551, 524, { align: 'l' });
box(1666, 516, 40, 14, 'background:#0b50f5');
text('Precipitation', 1717, 524, { align: 'l' });
box(1856, 516, 40, 14, 'background:#0fdcc8');
text('Showers', 1906, 524, { align: 'l' });

// ---------- stability indices ----------
text('Stability indices', 1124, 583, { size: 24 });
box(LEFT, 605, RIGHT - LEFT, 54, 'border:1.5px solid #222;');
text('Max. height', 229, 631, { align: 'r', size: 24 });
text('dry thermals: 3197 m / 10490 ft', 1124, 619, { size: 22 });
text('soaring: 2575 m / 8448 ft', 1124, 643, { size: 22 });
text('Thermal index', 231, 695, { align: 'r', size: 24 });
text('hPa', 2070, 710, { rot: -90, size: 24 });
thermalIndex.forEach((v, i) => text(v, 1124, 669.5 + i * 23.7, { size: 21 }));

panel('thermal', 658, 753, [], {
  x: Object.assign({}, timeAxis, { display: false }),
  y: { type: 'category', labels: thermalLevels, position: 'right', offset: true, afterFit: noY, grid: { display: false }, border: { display: false },
       ticks: { font: { size: TICK_SIZE }, color: '#000', padding: 4, autoSkip: false } }
}, { inward: [{ scale: 'y', values: [0, 1, 2, 3], len: 9, color: '#000', side: 'right' }] });

const constantEdge = (v, color) => ({ data: [{ x: 0, y: v }, { x: 24, y: v }], borderColor: 'transparent', borderWidth: 0, backgroundColor: color, fill: 'start', yAxisID: 'y' });
panel('stability', 753, 964, [
  series(updraft, '#000', 3),
  series(lifted, '#ff0000', 3.5, 'yl'),
  series(cape, '#3535f5', 3, 'yc'),
  series(soaring, '#e060c0', 3, 'ys'),
  constantEdge(soaringEdges[3], '#f7cf7d'),
  constantEdge(soaringEdges[2], '#eff77b'),
  constantEdge(soaringEdges[1], '#d9f1a6'),
  constantEdge(soaringEdges[0], '#68e88a')
], {
  x: timeAxis,
  y: valueAxis({ min: 1, max: 3.5, values: updraftTicks, padding: 5, extra: { grid: { display: true, drawOnChartArea: false, tickLength: 50, tickColor: '#000', tickWidth: 1.2 } },
                 ticks: { callback: v => v.toFixed(1) } }),
  yc: valueAxis({ min: 0, max: 1096, values: capeTicks, color: '#3232ff', padding: 5 }),
  ys: valueAxis({ min: -20, max: 44.9, values: soaringTicks, position: 'right', color: '#e070c8', padding: 4, ticks: { callback: v => String(v).replace('-', '\u2212') } }),
  yl: valueAxis({ min: -8, max: 5, reverse: true, values: liftedTicks, position: 'right', color: '#ff0000', padding: 7,
                  extra: { grid: { display: true, drawOnChartArea: false, tickLength: 49, tickColor: '#ff0000', tickWidth: 1.2 } },
                  ticks: { callback: v => String(v).replace('-', '\u2212') } })
}, { hourMarks: true, inward: [
  { scale: 'yc', values: capeTicks, len: 16, color: '#3232ff', side: 'left' },
  { scale: 'ys', values: soaringTicks, len: 14, color: '#e070c8', side: 'right' }
] });

text('Updraft velocity', 48, 863, { rot: -90, size: 24 });
text('(m/s)', 79, 862, { rot: -90, size: 24 });
text('CAPE (J/kg)', 116, 860, { rot: -90, size: 24, color: '#3232ff' });
text('Soaring index', 2113, 863, { rot: -90, size: 24, color: '#e868c8' });
text('Lifted index', 2144, 863, { rot: -90, size: 24, color: '#ff0000' });

function legendStrip(x, y, w, h, cells, outline) {
  box(x, y, w, h, outline ? 'border:1.2px solid #222;' : '');
  cells.forEach(([label, color], i) => {
    const cw = w / cells.length;
    const d = document.createElement('div');
    d.className = 'box';
    d.style.cssText = `left:${x + i * cw}px;top:${y}px;width:${cw}px;height:${h}px;background:${color};z-index:3;`;
    page.appendChild(d);
    text(label, x + (i + 0.5) * cw, y + h / 2, { size: 20 });
  });
}
text('Thermals', 167, 1008, { size: 20 });
legendStrip(240, 995, 530, 20, [['Strong', '#c17ad2'], ['Moderate', '#a095dc'], ['Light', '#7abfce'], ['Weak', '#c4eef2']], true);
text('Soaring conditions', 1357, 1008, { size: 20 });
legendStrip(1478, 996, 531, 20, [['poor', '#f7cf7d'], ['moderate', '#eff77b'], ['good', '#d9f1a6'], ['excellent', '#68e88a']], true);

// ---------- lapse rate / humidity / clouds ----------
const hatchCtx = document.createElement('canvas').getContext('2d');
const crossTile = crossHatch(), starTile = starHatch(true), sparseTile = starHatch(false);
const crossPattern = hatchCtx.createPattern(crossTile, 'repeat');
const starPattern = hatchCtx.createPattern(starTile, 'repeat');
const sparsePattern = hatchCtx.createPattern(sparseTile, 'repeat');

text('Lapse rate / Humidity / Clouds', 1124, 1064, { size: 24 });
text('Altitude approx.', 121, 1399, { rot: -90, size: 24 });
text('Pressure (hPa)', 2068, 1397, { rot: -90, size: 24 });

const flat500 = hours.map(() => 500);
const lens = vals => vals.concat(hours.slice(vals.length).map(() => null));
const RH20 = '#f8e838', RH40 = '#f0982c', RH60 = '#ee6a28', RH70 = '#f03028', RH80 = '#e040c0', RH90 = '#a830c8', RH95 = '#5020d0';

panel('lapse', 1081, 1713, [
  series(cloudBase, '#000', 4.5),
  series(boundaryLayer, '#fff', 3.5),
  polyline(rh95a, RH95, 2),
  polyline(rh90a, RH90, 2),
  polyline(rh85a, RH90, 1.6),
  polyline(rh80a, RH80, 2), polyline(rh80b, RH80, 2), polyline(rh80c, RH80, 1.6), polyline(rh80d, RH80, 2), polyline(rh80e, RH80, 2),
  polyline(rh70a, RH70, 2), polyline(rh70b, RH70, 2), polyline(rh70c, RH70, 2), polyline(rh70d, RH70, 2), polyline(rh70e, RH70, 2), polyline(rh70f, RH70, 2),
  polyline(rh60a, RH60, 2), polyline(rh60b, RH60, 2), polyline(rh60c, RH60, 2),
  polyline(rh40a, RH40, 2), polyline(rh40b, RH40, 2),
  polyline(rh20a, RH20, 2), polyline(rh20b, RH20, 2), polyline(rh20c, RH20, 2), polyline(rh20d, RH20, 2), polyline(rh20e, RH20, 2),
  area(cloudMain, crossPattern), area(cloudWest, crossPattern),
  area(convectiveCloud, starPattern),
  area(convectiveWest, sparsePattern), area(convectiveEast, sparsePattern),
  area(coldSpot, BLUE_D, WHITE_LINE),
  area(greenCoreB, GREEN_2),
  area(greenCoreA, GREEN_2, WHITE_LINE),
  area(greenC, GREEN_1),
  area(greenB, GREEN_1),
  area(greenA, GREEN_1),
  area(eastBand, BLUE_L1),
  area(lowBand, BLUE_L1),
  area(smallCool, BLUE_B),
  area(coolPatch, BLUE_B, WHITE_LINE),
  band(lens(lensF2), BLUE_C, WHITE_LINE),
  band(lens(lensG2), BLUE_B),
  band(lens(lensH2), BLUE_M, WHITE_LINE),
  band(lens(lensI2), BLUE_D),
  band(lens(lensJ2), BLUE_DD),
  band(lens(lensK2), BLUE_D, WHITE_LINE),
  band(lens(lensL2), BLUE_M),
  band(lens(lensM2), BLUE_B, WHITE_LINE),
  band(lens(lensN2), BLUE_C),
  band(lens(lensO2), BLUE_L1, WHITE_LINE),
  band(lens(lensP2), BLUE_L2),
  band(lens(lensQ2), GREEN_1, WHITE_LINE),
  band(lens(lensR2), GREEN_2),
  band(lens(lensS2), GREEN_3, WHITE_LINE),
  band(lens(lensS), YELLOW),
  band(lens(lensR), GREEN_3, WHITE_LINE),
  band(lens(lensQ), GREEN_2),
  band(lens(lensP), GREEN_1, WHITE_LINE),
  band(lens(lensO), BLUE_L2),
  band(lens(lensN), BLUE_L1, WHITE_LINE),
  band(lapseM, BLUE_C, WHITE_LINE),
  band(lapseL, BLUE_B),
  band(lapseK, BLUE_M, WHITE_LINE),
  band(lapseJ, BLUE_D),
  band(lapseI, BLUE_DD),
  band(lapseH, BLUE_D, WHITE_LINE),
  band(lapseG, BLUE_M),
  band(lapseF, BLUE_B, WHITE_LINE),
  area(lapseTongueCore, BLUE_C),
  area(lapseTongue, BLUE_L1, WHITE_LINE),
  band(lapseE, BLUE_C),
  band(lapseD, BLUE_L1, WHITE_LINE),
  band(lapseC, BLUE_L2, WHITE_LINE),
  band(lapseB, BLUE_L1),
  band(lapseA, BLUE_C, WHITE_LINE),
  area(lapseTop, BLUE_M),
  band(flat500, BLUE_B)
], {
  x: timeAxis,
  y: valueAxis({ min: 500, max: 928.5, reverse: true, values: pressureTicks, position: 'right', padding: 4, extra: dottedGrid(1) }),
  ya: valueAxis({ min: 500, max: 928.5, reverse: true, values: pressureTicks, padding: 4, ticks: { callback: v => altitudeLabels[v], font: { size: TICK_SIZE, lineHeight: 1.1 } } })
}, { hourMarks: true });

// contour labels of the lapse rate panel
const labelW = { size: 16, color: '#ffffff' };
[['-0.7', 1198, 1167, 0], ['-0.9', 682, 1515, 0], ['-0.3', 976, 1440, -15], ['0.5', 905, 1378, -15], ['0.1', 831, 1292, -10], ['0.1', 824, 1373, -15],
 ['-0.1', 610, 1627, 0], ['-0.3', 734, 1633, 90], ['-0.5', 769, 1635, 90], ['-0.7', 765, 1670, 90], ['-0.9', 651, 1673, 90],
 ['-0.9', 1641, 1620, 0], ['-0.5', 1956, 1597, 90], ['0.5', 1822, 1450, 90], ['-0.7', 1861, 1217, 15]]
  .forEach(([s, x, y, rot]) => text(s, x, y, Object.assign({ rot }, labelW)));
[['20', 1007, 1228, RH20, -60], ['20', 1988, 1300, RH20, 60], ['40', 1420, 1186, RH40, 0], ['70', 1420, 1221, RH70, 0], ['90', 682, 1359, RH90, 0], ['90', 766, 1373, RH95, 70],
 ['80', 265, 1302, RH80, 90], ['80', 279, 1633, RH80, 90], ['70', 756, 1582, RH70, 65], ['70', 612, 1635, RH70, 90], ['60', 1200, 1633, RH60, 90], ['80', 1715, 1293, RH80, 90], ['80', 1198, 1439, RH90, 0], ['80', 1421, 1449, RH80, 0]]
  .forEach(([s, x, y, color, rot]) => text(s, x, y, { size: 16, color, rot }));

box(240, 1746, 40, 7, 'background:#000');
text('Convective cloud base', 296, 1750, { align: 'l', size: 20 });
box(563, 1744, 40, 11, 'border:1.2px solid #222;background:#fff;');
text('Boundary layer height', 620, 1750, { align: 'l', size: 20 });
text('Rel. Humidity (%): colored lines', 939, 1750, { align: 'l', size: 20 });
text('Convective clouds', 1415, 1750, { align: 'l', size: 20 });
box(1602, 1744, 88, 14, `border:1px solid #000;background:#fff url(${sparseTile.toDataURL()}) 0 1px/72px 72px;`);
text('Cloud cover', 1796, 1750, { align: 'l', size: 20 });
box(1920, 1744, 89, 14, `border:1px solid #000;background:#fff url(${crossTile.toDataURL()}) 0 0/72px 72px;`);

// ---------- horizontal wind / vertical wind shear ----------
text('Horizontal wind / Vertical wind shear', 1124, 1814, { size: 24 });
text('Altitude approx.', 121, 2147, { rot: -90, size: 24 });
text('Pressure (hPa)', 2068, 2147, { rot: -90, size: 24 });

const PALE = '#c4eef2', W8 = '#ade3ef', W6 = '#8dd6ee', W5 = '#7cbdf0', W4 = '#6a9fe6', W3 = '#4a80dc', W2 = '#4460d0', W1 = '#3e40c8', W0 = '#7a4ccc';
const wband = (vals, color) => ({
  data: byHour(vals), borderColor: CONTOUR, borderWidth: 0.8, backgroundColor: color, fill: 'start', yAxisID: 'y'
});
panel('shear', 1829, 2463, [
  polyline(shear08a, R_08, 3.5), polyline(shear08b, R_08, 3.5), polyline(shear08c, R_08, 3.5), polyline(shear08d, R_08, 3.5),
  polyline(shear06a, O_06, 3.5), polyline(shear06b, O_06, 3.5), polyline(shear06c, O_06, 3.5), polyline(shear06d, O_06, 3.5), polyline(shear06e, O_06, 3.5), polyline(shear06f, O_06, 3.5),
  polyline(shear03a, Y_03, 3.5), polyline(shear03b, Y_03, 3.5), polyline(shear03c, Y_03, 3.5), polyline(shear03d, Y_03, 3.5), polyline(shear03e, Y_03, 3.5), polyline(shear03f, Y_03, 3.5),
  area(calmCoreD, W0, CONTOUR),
  area(calmCoreC, W0, CONTOUR),
  area(calmCoreB, W0, CONTOUR),
  area(calmCoreA, W0, CONTOUR),
  area(calmC, W1, CONTOUR),
  area(calmB, W1, CONTOUR),
  area(calmA, W1, CONTOUR),
  wband(windB6, W2),
  wband(windB5, W3),
  wband(windB4, W4),
  wband(windB3, W5),
  wband(windB2, W6),
  wband(windB1, W8),
  area(windEastB, W6, CONTOUR),
  area(windEast, W8, CONTOUR),
  area(windWestDot, W8, CONTOUR),
  area(windJet, '#6fb98f', CONTOUR),
  area(windMid, '#86de80', CONTOUR),
  area(windLightB, '#87eea0', CONTOUR),
  area(windLight, '#87eea0', CONTOUR),
  band(flat500, PALE)
], {
  x: timeAxis,
  y: valueAxis({ min: 500, max: 928.5, reverse: true, values: pressureTicks, position: 'right', padding: 4, extra: dottedGrid(1) }),
  ya: valueAxis({ min: 500, max: 928.5, reverse: true, values: pressureTicks, padding: 4, ticks: { callback: v => altitudeLabels[v], font: { size: TICK_SIZE, lineHeight: 1.1 } } })
}, { hourMarks: true, barbs: true });

// contour labels of the wind panel
[['16', 608, 1959, 5], ['8', 388, 2100, 0], ['11', 607, 2117, -15], ['6', 610, 2245, 0], ['3', 758, 2325, 0], ['1', 758, 2367, 0], ['11', 1345, 2033, 0], ['8', 1538, 2123, 0], ['9', 1641, 1898, 0], ['9', 1949, 1981, 90],
 ['5', 1643, 2168, 0], ['4', 1569, 2191, 0], ['2', 1569, 2238, 0], ['0', 1643, 2263, 0], ['1', 1569, 2298, 0], ['1', 1789, 2307, 0], ['0', 1864, 2319, 0], ['0', 1864, 2419, 0]]
  .forEach(([s, x, y, rot]) => text(s, x, y, { size: 15, rot }));
[['0.3', 749, 2111, Y_03, 70], ['0.3', 754, 2343, Y_03, 70], ['0.3', 1419, 1900, Y_03, 0], ['0.6', 751, 2045, O_06, 70], ['0.6', 754, 2192, O_06, 70], ['0.6', 628, 2271, O_06, 70], ['0.6', 754, 2355, O_06, 70], ['0.6', 1419, 2285, O_06, 0],
 ['0.8', 460, 2250, R_08, -10], ['0.8', 756, 2371, R_08, 0], ['0.8', 1345, 2184, R_08, 0]]
  .forEach(([s, x, y, color, rot]) => text(s, x, y, { size: 16, color, rot }));

text('Last update: 2026-06-07 10:59', 43, 2505, { align: 'l', size: 22, color: '#888' });
text('Wind shear (m/s per 100 m)', 1636, 2506, { align: 'r', size: 20 });
legendStrip(1655, 2493, 354, 19, [['0.28', '#f5f050'], ['0.56', '#f0c53c'], ['0.83', '#e8672a'], ['1.39', '#ee2f24'], ['2.78', '#d835b8']], false);
</script>
</body>
</html>
